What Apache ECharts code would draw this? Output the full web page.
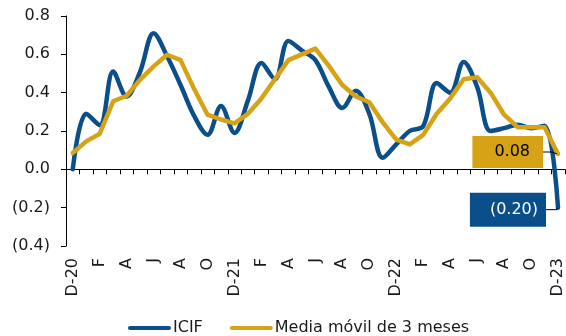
<!DOCTYPE html>
<html>
<head>
<meta charset="utf-8">
<script src="https://cdn.jsdelivr.net/npm/echarts@6/dist/echarts.min.js"></script>
<style>
html,body{margin:0;padding:0;background:#fff;}
#c{width:566px;height:336px;}
</style>
</head>
<body>
<div id="c"></div>
<script>
const categories = ['D-20','E','F','M','A','M','J','J','A','S','O','N',
  'D-21','E','F','M','A','M','J','J','A','S','O','N',
  'D-22','E','F','M','A','M','J','J','A','S','O','N','D-23'];
const icif = [0.00,0.29,0.23,0.51,0.38,0.51,0.71,0.59,0.44,0.28,0.18,0.33,
  0.19,0.36,0.555,0.47,0.67,0.62,0.57,0.43,0.32,0.41,0.29,0.06,
  0.13,0.20,0.225,0.45,0.40,0.56,0.43,0.20,0.215,0.233,0.215,0.228,-0.20];
const mediaMovil = [0.085,0.146,0.186,0.355,0.384,0.468,0.537,0.598,0.57,0.42,0.285,0.26,
  0.24,0.29,0.37,0.47,0.57,0.60,0.63,0.54,0.44,0.38,0.35,0.245,
  0.155,0.13,0.18,0.29,0.37,0.47,0.48,0.40,0.285,0.22,0.22,0.22,0.08];
const seriesNames = ['ICIF','Media móvil de 3 meses'];
const lastLabels = ['(0.20)','0.08'];

const BLUE = '#0B4F8A';
const GOLD = '#D6A216';
const FONT = 'DejaVu Sans';
const TXT = '#1a1a1a';

function withLastLabel(arr, labelCfg){
  return arr.map((v,i)=> i===arr.length-1 ? {value:v, label:labelCfg} : v);
}

const chart = echarts.init(document.getElementById('c'));
chart.setOption({
  animation:false,
  textStyle:{fontFamily:FONT},
  grid:{left:66,right:0,top:16,bottom:90},
  legend:{
    left:123, top:315,
    itemWidth:43, itemHeight:5, itemGap:27,
    icon:'path://M2,0 L41,0 A2,2 0 0 1 41,4 L2,4 A2,2 0 0 1 2,0 Z',
    textStyle:{fontFamily:FONT,fontSize:16,color:TXT,padding:[0,0,0,-3]},
    data:seriesNames
  },
  xAxis:[{
    type:'category', data:categories, boundaryGap:true, position:'bottom',
    axisLine:{show:false,onZero:false}, axisTick:{show:false},
    axisLabel:{interval:1, rotate:90, margin:12, fontFamily:FONT, fontSize:16, color:TXT}
  },{
    type:'category', data:categories, boundaryGap:true, position:'bottom',
    axisLine:{show:true,onZero:true,lineStyle:{color:'#000',width:1}},
    axisTick:{show:true,interval:0,length:5,inside:false,lineStyle:{color:'#000'}},
    axisLabel:{show:false}
  }],
  yAxis:{
    type:'value', min:-0.4, max:0.8, interval:0.2,
    axisLine:{show:true,lineStyle:{color:'#000',width:1}},
    axisTick:{show:true,length:5,lineStyle:{color:'#000'}},
    splitLine:{show:false},
    axisLabel:{margin:16,fontFamily:FONT,fontSize:16,color:TXT,
      formatter:v=>{const r=Math.round(v*10)/10; return r<0?'('+Math.abs(r).toFixed(1)+')':r.toFixed(1);}}
  },
  series:[{
    name:seriesNames[0], type:'line', xAxisIndex:0, smooth:0.35,
    symbol:'circle', symbolSize:0, showSymbol:true, showAllSymbol:true,
    lineStyle:{color:BLUE,width:4.5,cap:'round'}, itemStyle:{color:BLUE},
    z:2,
    data:withLastLabel(icif,{show:true,position:'left',distance:12,offset:[0,2],
      formatter:lastLabels[0],backgroundColor:BLUE,color:'#fff',
      fontFamily:FONT,fontSize:16,lineHeight:20,padding:[7,8,7,20]})
  },{
    name:seriesNames[1], type:'line', xAxisIndex:0, smooth:false,
    symbol:'circle', symbolSize:0, showSymbol:true, showAllSymbol:true,
    lineStyle:{color:GOLD,width:4.5,cap:'round',join:'round'}, itemStyle:{color:GOLD},
    z:3,
    data:withLastLabel(mediaMovil,{show:true,position:'left',distance:15,offset:[0,-2],
      formatter:lastLabels[1],backgroundColor:GOLD,color:'#000',
      fontFamily:FONT,fontSize:16,lineHeight:20,padding:[6,13,6,22]})
  }]
});

// leader lines from the label boxes to the last points, positioned via the chart's scales
const last = categories.length - 1;
const pB = chart.convertToPixel({xAxisIndex:0,yAxisIndex:0},[last, icif[last]]);
const pG = chart.convertToPixel({xAxisIndex:0,yAxisIndex:0},[last, mediaMovil[last]]);
chart.setOption({
  graphic:[
    {type:'polyline', z:10, silent:true,
     shape:{points:[[pB[0]-12,pB[1]+2],[pB[0]-1,pB[1]+2],[pB[0]-1,pB[1]]]},
     style:{stroke:'#000',lineWidth:1,fill:null}},
    {type:'polyline', z:10, silent:true,
     shape:{points:[[pG[0]-15,pG[1]-2],[pG[0]-6,pG[1]-2],[pG[0]-1,pG[1]]]},
     style:{stroke:'#000',lineWidth:1,fill:null}}
  ]
});
</script>
</body>
</html>
